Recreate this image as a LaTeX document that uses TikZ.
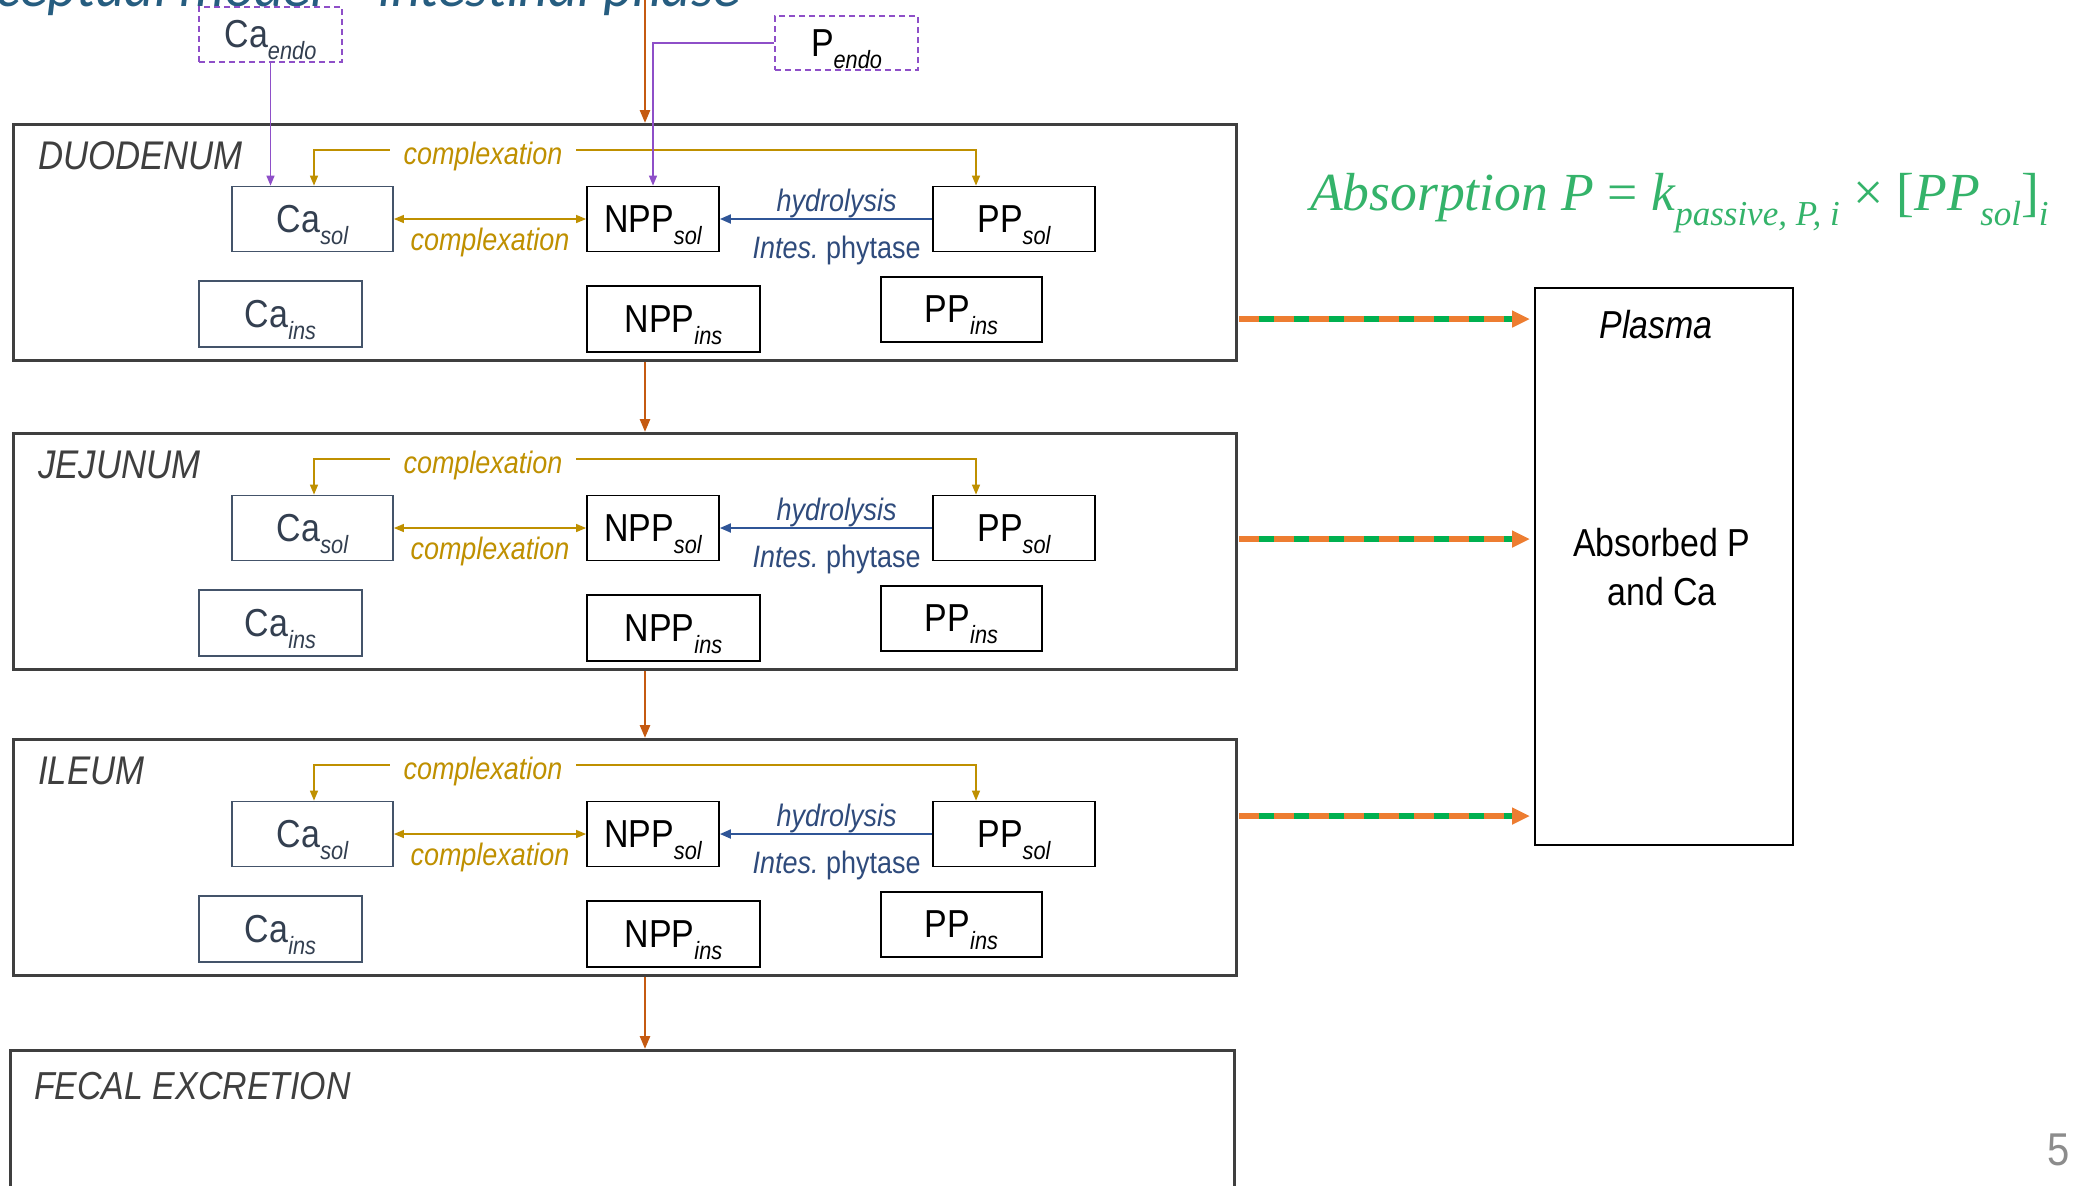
\documentclass[tikz,border=0pt]{standalone}
\usepackage{fontspec}
\setmainfont{Liberation Sans}[FakeStretch=0.87]
\newfontfamily\eqfont{Liberation Serif}
\newfontfamily\titlefont{Carlito}
\usetikzlibrary{arrows.meta,calc}
\definecolor{secgray}   {HTML}{3F3F3F}
\definecolor{caslate}   {HTML}{44546A}
\definecolor{catext}    {HTML}{333F50}
\definecolor{endopurple}{HTML}{8E4FC8}
\definecolor{flowc}     {HTML}{C55A11}
\definecolor{cgold}     {HTML}{BF9000}
\definecolor{hblue}     {HTML}{2F5597}
\definecolor{htext}     {HTML}{2F4B7C}
\definecolor{absorange} {HTML}{ED7D31}
\definecolor{absgreen}  {HTML}{00B050}
\definecolor{eqgreen}   {HTML}{34B36A}
\definecolor{titleblue} {HTML}{265D80}
\definecolor{pagegray}  {HTML}{8C8C8C}
\newcommand{\fs}[1]{\fontsize{#1}{#1}\selectfont}
\newcommand{\lowsub}[1]{\smash{\raisebox{-0.3em}{\fontsize{12.5}{12.5}\selectfont\itshape #1}}}
\newcommand{\eqsub}[1]{\raisebox{-0.28em}{\fontsize{17.5}{17.5}\selectfont #1}}

\begin{document}
\begin{tikzpicture}[x=0.5pt,y=-0.5pt,
  sect/.style={draw=secgray, line width=1.3pt, minimum width=611.5pt, minimum height=118pt,
               inner sep=0pt, anchor=north west},
  seclbl/.style={font=\fs{20}\itshape, text=secgray, anchor=west},
  pbox/.style={draw=black, line width=0.9pt, minimum height=32.5pt, inner sep=0pt, font=\fs{19.5}},
  cabox/.style={pbox, draw=caslate, text=catext},
  endobox/.style={draw=endopurple, line width=0.9pt, dash pattern=on 3pt off 2pt,
                  minimum width=71.5pt, minimum height=27.5pt, inner sep=0pt, font=\fs{19.5}},
  flow/.style={flowc, line width=1.3pt, -{Triangle[length=6.5pt,width=5pt]}},
  feedp/.style={endopurple, line width=0.7pt, -{Triangle[length=5pt,width=4pt]}},
  cplx/.style={cgold, line width=0.7pt, {Triangle[length=5pt,width=4pt]}-{Triangle[length=5pt,width=4pt]}},
  cplxlbl/.style={text=cgold, font=\fs{15.5}\itshape, inner sep=1pt},
  hydro/.style={hblue, line width=1pt, -{Triangle[length=5.5pt,width=4.5pt]}},
  hlbl/.style={text=htext, font=\fs{15.5}, inner sep=1pt},
  absorb/.style={absorange, line width=2.6pt, -{Triangle[length=9pt,width=8pt]}},
  absdash/.style={absgreen, line width=2.6pt, dash pattern=on 7.5pt off 10pt}]
  \useasboundingbox (0,0) rectangle (2077,1185);
  \clip (0,0) rectangle (2077,1185);
  \fill[white] (0,0) rectangle (2077,1185);
  \node[anchor=base east, text=titleblue, font=\titlefont\itshape\fs{28.5}] (title) at (748,6)
    {Conceptual model – intestinal phase};
  % endogenous inputs
  \node[endobox, text=catext] (caendo) at (270.5,34.5) {Ca\lowsub{endo}};
  \node[endobox, minimum height=27pt] (pendo) at (846.5,43) {P\lowsub{endo}};
  \coordinate (feed) at (645,0);
  % the three segments
  \foreach \s/\t/\name in {duo/123/DUODENUM, jej/432/JEJUNUM, ile/738/ILEUM}{
    \node[sect] (\s) at (12,\t) {};
    \node[seclbl] (\s-lbl) at (31,\t+33) {\name};
    \node[cabox, minimum width=80.5pt] (\s-casol) at (312.5,\t+96) {Ca\lowsub{sol}};
    \node[pbox, minimum width=66pt] (\s-nppsol) at (653,\t+96) {NPP\lowsub{sol}};
    \node[pbox, minimum width=81pt] (\s-ppsol) at (1014,\t+96) {PP\lowsub{sol}};
    \node[cabox, minimum width=81.5pt, minimum height=33pt] (\s-cains) at (280.5,\t+191) {Ca\lowsub{ins}};
    \node[pbox, minimum width=86.5pt, minimum height=33pt] (\s-nppins) at (673.5,\t+196) {NPP\lowsub{ins}};
    \node[pbox, minimum width=80.5pt] (\s-ppins) at (961.5,\t+186.5) {PP\lowsub{ins}};
    \coordinate (\s-cx) at (483,\t+27);
    \draw[cplx] ([xshift=0.75pt]\s-casol.north) |- (\s-cx) -| ([xshift=-19pt]\s-ppsol.north);
    \node[cplxlbl, fill=white, inner xsep=7pt, yshift=-3pt] (\s-cxlbl) at (\s-cx) {complexation};
    \draw[cplx] (\s-casol) -- (\s-nppsol) node[cplxlbl, midway, below=3pt] (\s-cxlow) {complexation};
    \draw[hydro] (\s-ppsol) -- (\s-nppsol)
      node[hlbl, pos=0.45, above=-1pt] (\s-hyd) {\itshape hydrolysis}
      node[hlbl, pos=0.45, below=7pt] (\s-phy) {\itshape Intes.\upshape\ phytase};
  }
  \node[sect, minimum width=612pt, minimum height=101pt] (fecal) at (9,1049) {};
  \node[seclbl, font=\fs{19.5}\itshape] (fecal-lbl) at (27,1086) {FECAL EXCRETION};
  % digesta flow
  \draw[flow] (feed) -- (feed |- duo.north);
  \draw[flow] (duo.south -| feed) -- (jej.north -| feed);
  \draw[flow] (jej.south -| feed) -- (ile.north -| feed);
  \draw[flow] (ile.south -| feed) -- (fecal.north -| feed);
  \draw[feedp] (caendo) -- (caendo |- duo-casol.north);
  \draw[feedp] (pendo) -| (duo-nppsol);
  % plasma and absorption
  \node[draw=black, line width=0.9pt, minimum width=129pt, minimum height=278.5pt, inner sep=0pt,
        anchor=north west] (plasma) at (1534,287) {};
  \node[font=\fs{19.5}\itshape] (plasma-lbl) at (1656,325) {Plasma};
  \node[font=\fontsize{19.5}{24.5}\selectfont, align=center] (plasma-abs) at (1662,567) {Absorbed P\\and Ca};
  \foreach \y [count=\k] in {319,539,816}{
    \coordinate (abs\k) at (1239,\y);
    \draw[absorb] (abs\k) -- ([xshift=-2pt]abs\k -| plasma.west);
    \draw[absdash] ([xshift=10pt]abs\k) -- ([xshift=-11pt]abs\k -| plasma.west);
  }
  \node[anchor=west, text=eqgreen, font=\eqfont\itshape\fs{26.8}] (eq) at (1303,203)
    {Absorption P {\upshape=} k\eqsub{passive, P, i} {\upshape×} {\upshape[}PP\eqsub{sol}{\upshape]}\eqsub{i}};
  \node[anchor=east, text=pagegray, font=\fs{23}] (pageno) at (2077,1150) {5};
\end{tikzpicture}
\end{document}
